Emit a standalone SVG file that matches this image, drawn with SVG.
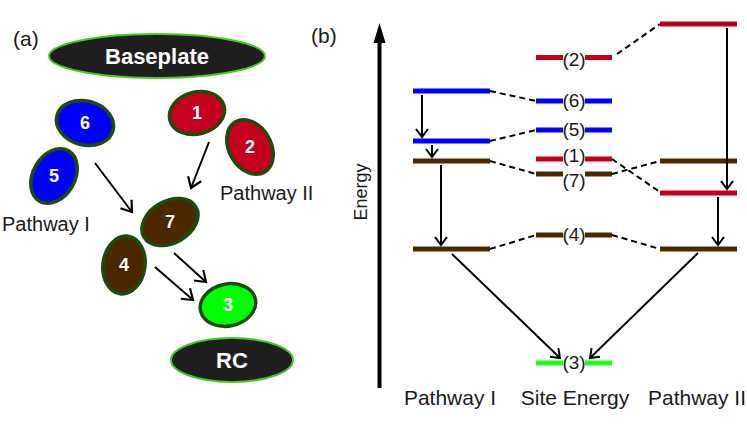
<svg xmlns="http://www.w3.org/2000/svg" width="747" height="425" viewBox="0 0 747 425">
<style>
.t{font-family:"Liberation Sans",Arial,sans-serif;fill:#1a1a1a}
.nd{stroke:#1c4c0c;stroke-width:3.5}
.nl{font-family:"Liberation Sans",Arial,sans-serif;font-weight:bold;fill:#fff;text-anchor:middle;font-size:18px}
.big{fill:#1e1e1e;stroke:#3fcc1a;stroke-width:2}
.lv{stroke-width:5;fill:none}
.r{stroke:#c4001f}.b{stroke:#0000ff}.br{stroke:#4b2800}.g{stroke:#1aff1a}
.ds{stroke:#000;stroke-width:2;stroke-dasharray:6 4;fill:none}
.ar{stroke:#000;stroke-width:2;fill:none}
.ll{font-family:"Liberation Sans",Arial,sans-serif;font-size:19px;fill:#1a1a1a;text-anchor:middle}
</style>
<defs>
<marker id="ah" viewBox="-12 -8 14 16" markerWidth="14" markerHeight="16" refX="0" refY="0" orient="auto" markerUnits="userSpaceOnUse">
<path d="M-10,-7 L0,0 L-10,7" fill="none" stroke="#000" stroke-width="2.2"/>
</marker>
<marker id="ahs" viewBox="-10 -7 12 14" markerWidth="12" markerHeight="14" refX="0" refY="0" orient="auto" markerUnits="userSpaceOnUse">
<path d="M-8,-6 L0,0 L-8,6" fill="none" stroke="#000" stroke-width="2"/>
</marker>
</defs>

<!-- Panel (a) -->
<text class="t" x="13" y="46" font-size="21">(a)</text>
<text class="t" x="311" y="43" font-size="21">(b)</text>

<g id="baseplate">
<ellipse class="big" cx="157" cy="56" rx="108" ry="22"/>
<text class="nl" x="157" y="64" style="font-size:22px">Baseplate</text>
</g>
<g id="node6">
<ellipse class="nd" cx="85" cy="123" rx="29" ry="22" fill="#0000ff" transform="rotate(15 85 123)"/>
<text class="nl" x="85" y="129">6</text>
</g>
<g id="node5">
<ellipse class="nd" cx="54" cy="176" rx="21" ry="29" fill="#0000ff" transform="rotate(30 54 176)"/>
<text class="nl" x="54" y="182">5</text>
</g>
<g id="node1">
<ellipse class="nd" cx="197" cy="113" rx="28" ry="21" fill="#c4001f" transform="rotate(-15 197 113)"/>
<text class="nl" x="197" y="119">1</text>
</g>
<g id="node2">
<ellipse class="nd" cx="250" cy="147" rx="21" ry="29" fill="#c4001f" transform="rotate(-30 250 147)"/>
<text class="nl" x="250" y="153">2</text>
</g>
<g id="node7">
<ellipse class="nd" cx="170" cy="222" rx="30" ry="21" fill="#4b2800" transform="rotate(-30 170 222)"/>
<text class="nl" x="170" y="228">7</text>
</g>
<g id="node4">
<ellipse class="nd" cx="124" cy="265" rx="21" ry="29" fill="#4b2800" transform="rotate(8 124 265)"/>
<text class="nl" x="124" y="271">4</text>
</g>
<g id="node3">
<ellipse class="nd" cx="228" cy="305" rx="28" ry="21" fill="#00ff00" transform="rotate(-12 228 305)"/>
<text class="nl" x="228" y="311">3</text>
</g>
<g id="rc">
<ellipse class="big" cx="232" cy="360" rx="61" ry="22"/>
<text class="nl" x="232" y="368" style="font-size:22px">RC</text>
</g>
<text class="t" x="220" y="200" font-size="20">Pathway II</text>
<text class="t" x="2" y="231" font-size="20">Pathway I</text>

<g id="connectors-a">
<line class="ar" x1="95" y1="163" x2="132" y2="212" marker-end="url(#ah)"/>
<line class="ar" x1="209" y1="142" x2="191" y2="188" marker-end="url(#ah)"/>
<line class="ar" x1="174" y1="253" x2="206" y2="282" marker-end="url(#ah)"/>
<line class="ar" x1="155" y1="267" x2="193" y2="300" marker-end="url(#ah)"/>
</g>

<!-- Panel (b) -->
<g id="axis">
<line x1="379.5" y1="388" x2="379.5" y2="38" stroke="#000" stroke-width="4"/>
<path d="M373.5,43 L379.5,23 L385.5,43 Z" fill="#000"/>
<text class="t" font-size="18" transform="translate(367 192) rotate(-90)" text-anchor="middle">Energy</text>
</g>

<g id="pathway1-levels">
<line class="lv b" x1="413" y1="91" x2="490" y2="91"/>
<line class="lv b" x1="413" y1="141" x2="490" y2="141"/>
<line class="lv br" x1="413" y1="161" x2="490" y2="161"/>
<line class="lv br" x1="413" y1="249" x2="490" y2="249"/>
</g>
<g id="site-levels">
<path class="lv r" d="M536,57.5H563M585,57.5H612"/>
<text class="ll" x="574" y="66">(2)</text>
<path class="lv b" d="M536,101H563M585,101H612"/>
<text class="ll" x="574" y="107">(6)</text>
<path class="lv b" d="M536,130H563M585,130H612"/>
<text class="ll" x="574" y="136">(5)</text>
<path class="lv r" d="M536,159H563M585,159H612"/>
<text class="ll" x="574" y="161.5">(1)</text>
<path class="lv br" d="M536,174H563M585,174H612"/>
<text class="ll" x="574" y="186.5">(7)</text>
<path class="lv br" d="M536,235H563M585,235H612"/>
<text class="ll" x="574" y="241">(4)</text>
<path class="lv g" d="M536,363H563M585,363H612"/>
<text class="ll" x="574" y="368.5">(3)</text>
</g>
<g id="pathway2-levels">
<line class="lv r" x1="660" y1="24" x2="737" y2="24"/>
<line class="lv br" x1="660" y1="161" x2="737" y2="161"/>
<line class="lv r" x1="660" y1="193" x2="737" y2="193"/>
<line class="lv br" x1="660" y1="249" x2="737" y2="249"/>
</g>

<g id="connectors-b">
<line class="ds" x1="490" y1="91" x2="536" y2="101"/>
<line class="ds" x1="490" y1="141" x2="536" y2="130"/>
<line class="ds" x1="490" y1="161" x2="536" y2="174"/>
<line class="ds" x1="490" y1="249" x2="536" y2="235"/>
<line class="ds" x1="617" y1="54" x2="660" y2="24"/>
<line class="ds" x1="612" y1="159" x2="660" y2="192"/>
<line class="ds" x1="612" y1="174" x2="660" y2="161"/>
<line class="ds" x1="612" y1="235" x2="660" y2="249"/>

<line class="ar" x1="422" y1="95" x2="422" y2="137" marker-end="url(#ahs)"/>
<line class="ar" x1="432" y1="145" x2="432" y2="157" marker-end="url(#ahs)"/>
<line class="ar" x1="441" y1="165" x2="441" y2="245" marker-end="url(#ahs)"/>
<line class="ar" x1="452" y1="254" x2="560" y2="358" marker-end="url(#ahs)"/>
<line class="ar" x1="727" y1="28" x2="727" y2="189" marker-end="url(#ahs)"/>
<line class="ar" x1="718" y1="197" x2="718" y2="245" marker-end="url(#ahs)"/>
<line class="ar" x1="698" y1="253" x2="590" y2="358" marker-end="url(#ahs)"/>
</g>

<text class="t" x="450" y="405" font-size="21" text-anchor="middle">Pathway I</text>
<text class="t" x="575" y="405" font-size="21" text-anchor="middle">Site Energy</text>
<text class="t" x="697" y="405" font-size="21" text-anchor="middle">Pathway II</text>
</svg>
